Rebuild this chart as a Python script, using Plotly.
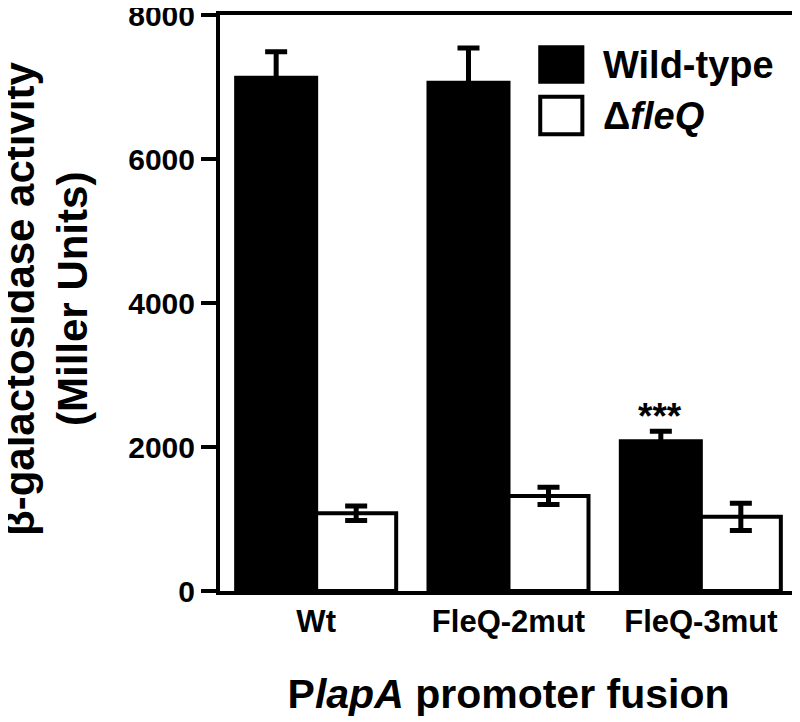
import plotly.graph_objects as go

categories = ["Wt", "FleQ-2mut", "FleQ-3mut"]
wild_type = [7130, 7060, 2080]
wild_type_err = [360, 480, 140]
dfleq = [1080, 1320, 1030]
dfleq_err = [100, 120, 190]
y_ticks = [0, 2000, 4000, 6000, 8000]

FONT = "Liberation Sans, Arial, sans-serif"

fig = go.Figure()
fig.add_trace(go.Bar(
    x=categories, y=wild_type, name="Wild-type",
    marker=dict(color="black", line=dict(color="black", width=4)),
    error_y=dict(type="data", array=wild_type_err, color="black", thickness=5, width=11),
))
fig.add_trace(go.Bar(
    x=categories, y=dfleq, name="ΔfleQ",
    marker=dict(color="white", line=dict(color="black", width=4)),
    error_y=dict(type="data", array=dfleq_err, color="black", thickness=5, width=11),
))

fig.update_layout(
    width=800, height=722,
    margin=dict(l=212, r=11, t=7, b=139),
    paper_bgcolor="white", plot_bgcolor="white",
    barmode="group", bargap=0.168, bargroupgap=0,
    showlegend=False,
    font=dict(family=FONT, color="black"),
)
fig.update_yaxes(
    range=[0, 8000], tickvals=y_ticks, ticktext=[str(v) for v in y_ticks],
    showgrid=False, zeroline=False, automargin=False, ticklabeloverflow="allow",
    showline=True, linecolor="black", linewidth=4, mirror=True,
    ticks="outside", ticklen=15, tickwidth=4, tickcolor="black",
    tickfont=dict(size=30, family=FONT, weight="bold"),
)
fig.update_xaxes(
    showgrid=False, showline=True, linecolor="black", linewidth=4, mirror=True,
    ticks="", ticklabelstandoff=0, automargin=False, ticklabeloverflow="allow",
    tickfont=dict(size=31, family=FONT, weight="bold"),
    title=dict(text="<b>P<i>lapA</i> promoter fusion</b>", font=dict(size=41, family=FONT), standoff=42),
)

# y-axis title (two lines)
fig.add_annotation(text="<b>β-galactosidase activity</b>", xref="paper", yref="paper",
                   x=0, y=0.507, xshift=-200, textangle=-90, showarrow=False,
                   font=dict(size=42, family=FONT), xanchor="center", yanchor="middle")
fig.add_annotation(text="<b>(Miller Units)</b>", xref="paper", yref="paper",
                   x=0, y=0.507, xshift=-147, textangle=-90, showarrow=False,
                   font=dict(size=42, family=FONT), xanchor="center", yanchor="middle")

# significance marker
fig.add_annotation(text="<b>***</b>", x=categories[2], y=wild_type[2] + wild_type_err[2],
                   xshift=-41, yshift=-8, showarrow=False, yanchor="bottom",
                   font=dict(size=37, family=FONT))

# custom legend
fig.add_shape(type="rect", xref="paper", yref="paper", x0=0.555, x1=0.628, y0=0.884, y1=0.944,
              fillcolor="black", line=dict(color="black", width=4))
fig.add_shape(type="rect", xref="paper", yref="paper", x0=0.555, x1=0.628, y0=0.793, y1=0.858,
              fillcolor="white", line=dict(color="black", width=4))
fig.add_annotation(text="<b>Wild-type</b>", xref="paper", yref="paper", x=0.660, y=0.914,
                   xanchor="left", yanchor="middle", showarrow=False, font=dict(size=38, family=FONT))
fig.add_annotation(text="<b>Δ<i>fleQ</i></b>", xref="paper", yref="paper", x=0.660, y=0.825,
                   xanchor="left", yanchor="middle", showarrow=False, font=dict(size=38, family=FONT))

fig.write_html("out.html")
